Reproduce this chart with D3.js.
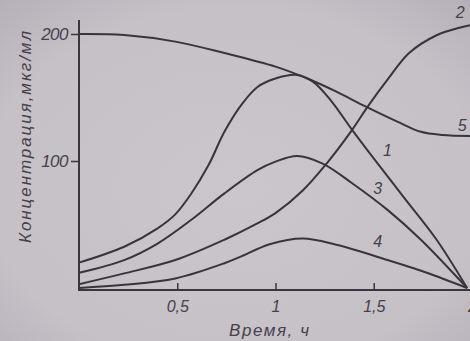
<!DOCTYPE html>
<html>
<head>
<meta charset="utf-8">
<script src="https://cdn.jsdelivr.net/npm/d3@7"></script>
<style>
  body { margin: 0; background: #c6c0c7; }
  svg { display: block; }
  text { font-family: "Liberation Sans", Arial, sans-serif; font-style: italic; fill: #45414b; }
</style>
</head>
<body>
<div id="chart"></div>
<script>
// values (time in hours, concentration in mkg/ml)
const curve1Time = [0, 0.23, 0.40, 0.49, 0.57, 0.66, 0.74, 0.83, 0.91, 1.00, 1.11, 1.19, 1.28, 1.39, 1.48, 1.65, 1.82, 1.975]
const curve1Conc = [20, 32.5, 47, 58, 74, 97, 123, 145, 158.5, 165, 167.7, 162.5, 148, 124.5, 106, 72, 38, 0]

const curve2Time = [0, 0.23, 0.49, 0.74, 0.91, 1.00, 1.14, 1.26, 1.39, 1.47, 1.57, 1.68, 1.82, 1.95, 1.99]
const curve2Conc = [3, 11.5, 22, 38, 51, 59, 77, 98, 124.5, 143, 164, 185, 199, 205.5, 207]

const curve3Time = [0, 0.23, 0.40, 0.57, 0.74, 0.91, 1.00, 1.11, 1.24, 1.39, 1.57, 1.74, 1.975]
const curve3Conc = [12, 22, 35, 53.5, 74.5, 93, 99.5, 104, 98, 82.5, 61.5, 38, 0]

const curve4Time = [0, 0.23, 0.49, 0.74, 0.82, 0.97, 1.14, 1.31, 1.57, 1.77, 1.975]
const curve4Conc = [0, 2.5, 7.5, 19.5, 24.5, 34.5, 39, 34, 22, 12, 0]

const curve5Time = [0, 0.23, 0.49, 0.74, 1.00, 1.18, 1.31, 1.46, 1.62, 1.74, 1.85, 1.99]
const curve5Conc = [200, 199.2, 194, 185, 174.3, 163.8, 154.6, 142.8, 131, 123, 120.5, 119.7]

const curveNames = ["1", "2", "3", "4", "5"]
// label anchors: [time, concentration] where the curve number is printed
const labelTime = [1.57, 1.94, 1.52, 1.52, 1.95]
const labelConc = [104, 213, 74, 32, 124]

const xTicks = [0.5, 1, 1.5, 2]
const xTickLabels = ["0,5", "1", "1,5", "2"]
const yTicks = [100, 200]

const xTitle = "Время, ч"
const yTitle = "Концентрация,мкг/мл"

function drawChart() {

  // 1. Dimensions
  let dimensions = {
    width: 470,
    height: 341,
    margin: { top: 34, right: 0, bottom: 53, left: 79 },
  }
  dimensions.boundedWidth = 393
  dimensions.boundedHeight = dimensions.height - dimensions.margin.top - dimensions.margin.bottom

  // 2. Canvas
  const svg = d3.select("#chart")
    .append("svg")
      .attr("width", dimensions.width)
      .attr("height", dimensions.height)

  // faint scan vignette
  const grad = svg.append("defs").append("radialGradient")
      .attr("id", "paper")
      .attr("cx", "50%").attr("cy", "55%").attr("r", "75%")
  grad.append("stop").attr("offset", "0%").attr("stop-color", "#cbc5cc")
  grad.append("stop").attr("offset", "70%").attr("stop-color", "#c6c0c7")
  grad.append("stop").attr("offset", "100%").attr("stop-color", "#b5afb7")
  svg.append("rect")
      .attr("width", dimensions.width)
      .attr("height", dimensions.height)
      .attr("fill", "url(#paper)")

  const bounds = svg.append("g")
      .attr("transform", `translate(${dimensions.margin.left}, ${dimensions.margin.top})`)

  // 3. Scales
  const xScale = d3.scaleLinear()
    .domain([0, 2])
    .range([0, dimensions.boundedWidth])

  const yScale = d3.scaleLinear()
    .domain([0, 200])
    .range([dimensions.boundedHeight, 0])

  // 4. Axes
  const axisColor = "#3a363f"
  const axisY0 = dimensions.boundedHeight + 2

  bounds.append("line")
      .attr("x1", 0).attr("x2", 0)
      .attr("y1", yScale(200) - 14).attr("y2", axisY0 + 1)
      .attr("stroke", axisColor).attr("stroke-width", 2)
  bounds.append("line")
      .attr("x1", -1).attr("x2", dimensions.boundedWidth + 5)
      .attr("y1", axisY0).attr("y2", axisY0)
      .attr("stroke", axisColor).attr("stroke-width", 2)

  const xAxis = bounds.append("g")
      .attr("transform", `translate(0, ${axisY0})`)
      .call(d3.axisBottom(xScale)
        .tickValues(xTicks)
        .tickFormat((d, i) => xTickLabels[i])
        .tickSize(-7)
        .tickPadding(11))
  xAxis.select(".domain").remove()
  xAxis.selectAll("line").attr("stroke", axisColor).attr("stroke-width", 1.5)
  xAxis.selectAll("text")
      .attr("fill", "#45414b")
      .style("font-family", "'Liberation Sans', Arial, sans-serif")
      .style("font-style", "italic")
      .style("font-size", "16px")

  const yAxis = bounds.append("g")
      .call(d3.axisLeft(yScale)
        .tickValues(yTicks)
        .tickSize(8)
        .tickPadding(3))
  yAxis.select(".domain").remove()
  yAxis.selectAll("line").attr("stroke", axisColor).attr("stroke-width", 1.5)
  yAxis.selectAll("text")
      .attr("fill", "#45414b")
      .style("font-family", "'Liberation Sans', Arial, sans-serif")
      .style("font-style", "italic")
      .style("font-size", "17px")
      .attr("letter-spacing", -0.5)

  // axis titles
  bounds.append("text")
      .attr("x", 229 - dimensions.margin.left)
      .attr("y", dimensions.boundedHeight + 48)
      .attr("textLength", 80)
      .attr("lengthAdjust", "spacing")
      .style("font-size", "17px")
      .text(xTitle)

  bounds.append("text")
      .attr("transform", `translate(${31 - dimensions.margin.left}, ${243 - dimensions.margin.top}) rotate(-90)`)
      .attr("textLength", 212)
      .attr("lengthAdjust", "spacing")
      .style("font-size", "17px")
      .text(yTitle)

  // 5. Curves
  const series = [
    [curve1Time, curve1Conc],
    [curve2Time, curve2Conc],
    [curve3Time, curve3Conc],
    [curve4Time, curve4Conc],
    [curve5Time, curve5Conc],
  ].map(([t, c]) => t.map((d, i) => ({ t: d, c: c[i] })))

  const lineGenerator = d3.line()
    .x(d => xScale(d.t))
    .y(d => yScale(d.c))
    .curve(d3.curveCatmullRom.alpha(0.5))

  bounds.append("g")
      .selectAll("path")
      .data(series)
    .join("path")
      .attr("d", lineGenerator)
      .attr("fill", "none")
      .attr("stroke", "#38343d")
      .attr("stroke-width", 2)

  // curve numbers
  bounds.append("g")
      .selectAll("text")
      .data(curveNames)
    .join("text")
      .attr("x", (d, i) => xScale(labelTime[i]))
      .attr("y", (d, i) => yScale(labelConc[i]))
      .attr("text-anchor", "middle")
      .style("font-size", "16px")
      .text(d => d)
}
drawChart()
</script>
</body>
</html>
